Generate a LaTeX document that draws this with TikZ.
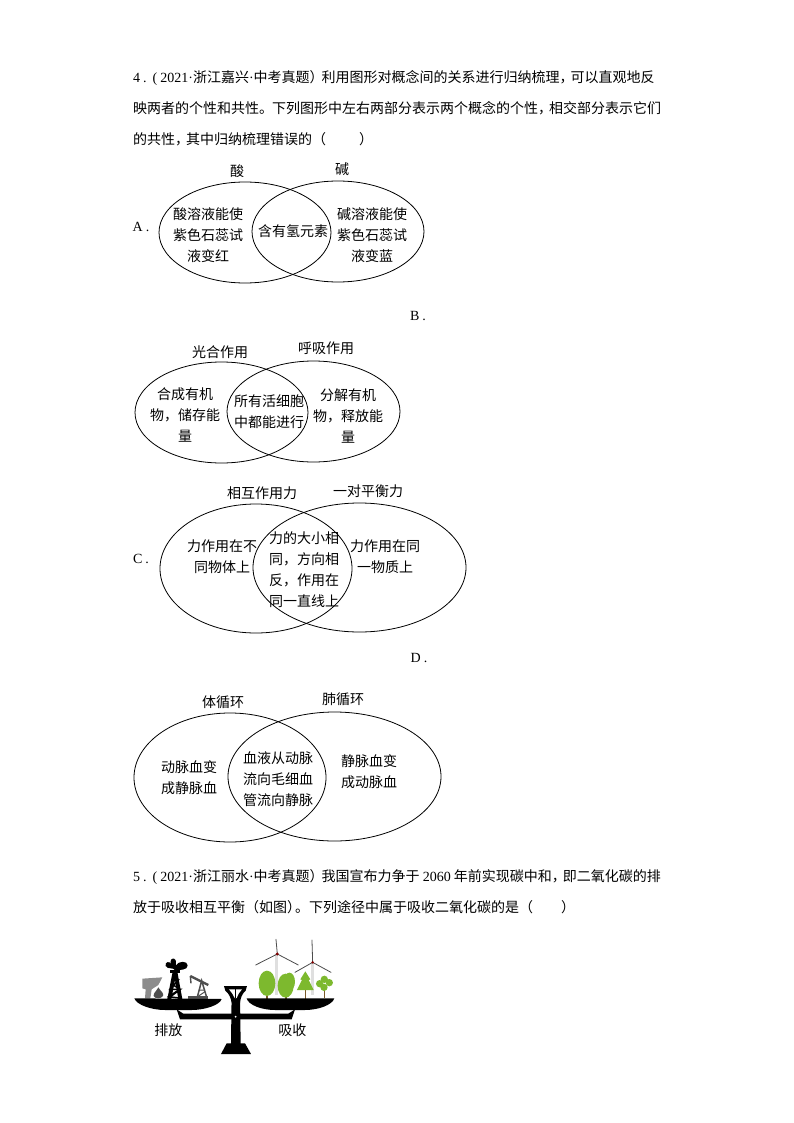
\documentclass[tikz,border=0pt]{standalone}
\usepackage{fontspec}
\setmainfont{Noto Sans CJK SC}
\newfontfamily\latf{Liberation Serif}
\usetikzlibrary{shapes.geometric}
\newcommand{\lat}[1]{{\latf #1}}
\tikzset{
  x=1pt,y=-1pt,
  venn/.style={draw=black,line width=0.8pt,ellipse,inner sep=0pt,fill=none},
  lbl/.style={inner sep=0pt,align=center,font=\fontsize{14}{21}\selectfont,text=black},
  para/.style={inner sep=0pt,anchor=west,font=\fontsize{14}{14}\selectfont,text=black},
  optn/.style={inner sep=0pt,font=\latf\fontsize{14}{14}\selectfont,text=black},
  leaf/.style={fill=leafgreen,draw=none},
  trunk/.style={line width=1.3pt,draw=trunkbrown},
  blade/.style={line width=0.8pt,draw=gray!60!black,line cap=round},
  tower/.style={line width=2.8pt,draw=gray!25}
}
\definecolor{leafgreen}{HTML}{7DB92E}
\definecolor{trunkbrown}{HTML}{7A5A2A}
\definecolor{darkg}{HTML}{4F4F4F}
\definecolor{midg}{HTML}{8C8C8C}
\begin{document}
\begin{tikzpicture}
\useasboundingbox (0,0) rectangle (794,1123);
\fill[white] (0,0) rectangle (794,1123);
% question 4
\node[para] (q4a) at (133,78) {\lat{4\hspace{3pt}.\hspace{6pt}(\hspace{3pt}2021·}浙江嘉兴\lat{·}中考真题）\hspace{-2pt}利用图形对概念间的关系进行归纳梳理，\hspace{-3pt}可以直观地反};
\node[para] (q4b) at (133,108) {映两者的个性和共性。\hspace{-1pt}下列图形中左右两部分表示两个概念的个性，\hspace{-3pt}相交部分表示它们};
\node[para] (q4c) at (133,139) {的共性，\hspace{-3pt}其中归纳梳理错误的（\hspace{33pt}）};
% A
\node[optn] (optA) at (141,227) {A\hspace{3pt}.};
\node[venn,minimum width=172pt,minimum height=101pt] (Al) at (245,232.5) {};
\node[venn,minimum width=172pt,minimum height=101pt] (Ar) at (338,231.5) {};
\node[lbl] (Alt) at (237,171) {酸};
\node[lbl] (Art) at (342,169) {碱};
\node[lbl] (Ala) at (208,235) {酸溶液能使\\紫色石蕊试\\液变红};
\node[lbl] (Amd) at (293,231) {含有氢元素};
\node[lbl] (Ara) at (372,235) {碱溶液能使\\紫色石蕊试\\液变蓝};
% B
\node[optn] (optB) at (418,316) {B\hspace{3pt}.};
\node[venn,minimum width=173pt,minimum height=101pt] (Bl) at (221.5,412.5) {};
\node[venn,minimum width=173pt,minimum height=101pt] (Br) at (313.5,411.5) {};
\node[lbl] (Blt) at (220,352) {光合作用};
\node[lbl] (Brt) at (326,348) {呼吸作用};
\node[lbl] (Bla) at (185,415) {合成有机\\物，储存能\\量};
\node[lbl] (Bmd) at (269,411.5) {所有活细胞\\中都能进行};
\node[lbl] (Bra) at (348,415.5) {分解有机\\物，释放能\\量};
% C
\node[optn] (optC) at (141,559) {C\hspace{3pt}.};
\node[venn,minimum width=192pt,minimum height=129pt] (Cl) at (256,568.5) {};
\node[venn,minimum width=213pt,minimum height=129pt] (Cr) at (359.5,567.5) {};
\node[lbl] (Clt) at (262,493) {相互作用力};
\node[lbl] (Crt) at (368,491) {一对平衡力};
\node[lbl] (Cla) at (222,556.5) {力作用在不\\同物体上};
\node[lbl] (Cmd) at (304,570) {力的大小相\\同，方向相\\反，作用在\\同一直线上};
\node[lbl] (Cra) at (385,556.5) {力作用在同\\一物质上};
% D
\node[optn] (optD) at (419,658) {D\hspace{3pt}.};
\node[venn,minimum width=192pt,minimum height=129pt] (Dl) at (230,777.5) {};
\node[venn,minimum width=213pt,minimum height=129pt] (Dr) at (334.5,776.5) {};
\node[lbl] (Dlt) at (223,702) {体循环};
\node[lbl] (Drt) at (343,699) {肺循环};
\node[lbl] (Dla) at (189,778) {动脉血变\\成静脉血};
\node[lbl] (Dmd) at (278,779) {血液从动脉\\流向毛细血\\管流向静脉};
\node[lbl] (Dra) at (369,771.5) {静脉血变\\成动脉血};
% question 5
\node[para] (q5a) at (133,877) {\lat{5\hspace{3pt}.\hspace{6pt}(\hspace{3pt}2021·}浙江丽水\lat{·}中考真题）\hspace{-2pt}我国宣布力争于 \lat{2060} 年前实现碳中和，\hspace{-3pt}即二氧化碳的排};
\node[para] (q5b) at (133,907) {放于吸收相互平衡（如图）\hspace{-6pt}。下列途径中属于吸收二氧化碳的是（\hspace{28pt}）};
% balance picture
\begin{scope}[shift={(125,930)},x=0.3333pt,y=-0.3333pt]
  % turbines
  \draw[tower] (455,72) -- (455,195);
  \draw[tower] (563,97) -- (563,195);
  \draw[blade] (457,72) -- (453,28);
  \draw[blade] (457,72) -- (392,105);
  \draw[blade] (457,72) -- (520,105);
  \draw[blade] (563,97) -- (561,30);
  \draw[blade] (563,97) -- (510,127);
  \draw[blade] (563,97) -- (618,127);
  \fill[red!50!black] (457,72) circle (5);
  \fill[red!50!black] (563,97) circle (4);
  % trees
  \draw[trunk] (426,170) -- (426,208);
  \draw[trunk] (483,170) -- (483,208);
  \draw[trunk] (541,170) -- (541,208);
  \draw[trunk] (598,165) -- (598,205);
  \fill[leaf] (426,160) ellipse (25 and 38);
  \fill[leaf] (493,155) ellipse (17 and 27);
  \fill[leaf] (482,167) ellipse (24 and 36);
  \fill[leaf] (541,124) -- (556,148) -- (551,150) -- (566,180) -- (516,180) -- (531,150) -- (526,148) -- cycle;
  \fill[leaf] (598,148) circle (11);
  \fill[leaf] (584,161) circle (11);
  \fill[leaf] (613,158) circle (11);
  \fill[leaf] (597,172) circle (11);
  % emission side: grey stacks
  \fill[midg] (52,146) -- (112,142) -- (100,165) -- (80,178) -- (76,205) -- (60,205) -- (62,178) -- (52,175) -- cycle;
  \fill[darkg] (100,172) .. controls (108,185) and (118,190) .. (114,198) .. controls (108,207) and (90,207) .. (86,198) .. controls (84,190) and (94,184) .. (100,172) -- cycle;
  % derrick
  \fill[black] (127,207) -- (143,125) -- (157,125) -- (172,207) -- (160,207) -- (150,150) -- (139,207) -- cycle;
  \draw[black,line width=1.5pt] (141,150) -- (160,150) -- (135,178) -- (166,178) -- (130,205);
  \draw[black,line width=1.5pt] (138,160) -- (164,178) -- (131,200) -- (170,205);
  \fill[black] (135,120) rectangle (165,128);
  \fill[black] (150,122) .. controls (148,110) and (128,120) .. (122,108) .. controls (118,94) and (136,92) .. (140,104) .. controls (132,92) and (140,84) .. (147,86) .. controls (156,90) and (152,100) .. (153,106) .. controls (160,92) and (188,92) .. (188,106) .. controls (188,122) and (165,118) .. (150,122) -- cycle;
  % pump jack
  \draw[darkg,line width=2.4pt] (196,138) -- (250,165);
  \draw[darkg,line width=1.4pt] (196,138) -- (198,160);
  \draw[darkg,line width=1.5pt] (216,205) -- (230,152) -- (246,205);
  \draw[darkg,line width=1pt] (222,180) -- (240,180) (218,200) -- (240,185);
  \fill[darkg] (188,198) rectangle (250,207);
  % pans and beam
  \fill[black] (28,205) -- (290,207) .. controls (285,225) and (240,240) .. (200,240) -- (120,240) .. controls (80,240) and (35,225) .. (28,205) -- cycle;
  \fill[black] (365,205) -- (628,205) .. controls (622,225) and (580,240) .. (540,240) -- (450,240) .. controls (410,240) and (370,225) .. (365,205) -- cycle;
  \fill[black] (155,238) -- (175,251) -- (490,251) -- (510,238) -- (500,268) -- (165,268) -- cycle;
  \fill[black] (320,190) -- (345,190) -- (347,342) -- (318,342) -- cycle;
  \fill[black] (305,340) -- (360,340) -- (378,372) -- (288,372) -- cycle;
  \fill[black] (297,168) -- (366,168) -- (362,182) .. controls (352,190) and (346,205) .. (345,218) -- (320,218) .. controls (318,205) and (312,190) .. (301,182) -- cycle;
  \fill[white] (312,178) -- (351,178) .. controls (344,185) and (338,195) .. (335,204) -- (329,204) .. controls (325,195) and (319,185) .. (312,178) -- cycle;
  \draw[black,line width=0.5pt] (332,178) -- (332,204);
  \fill[white] (332,260) circle (3);
  \node[lbl] (pa) at (130,300) {排放};
  \node[lbl] (pb) at (502,300) {吸收};
\end{scope}
\end{tikzpicture}
\end{document}
